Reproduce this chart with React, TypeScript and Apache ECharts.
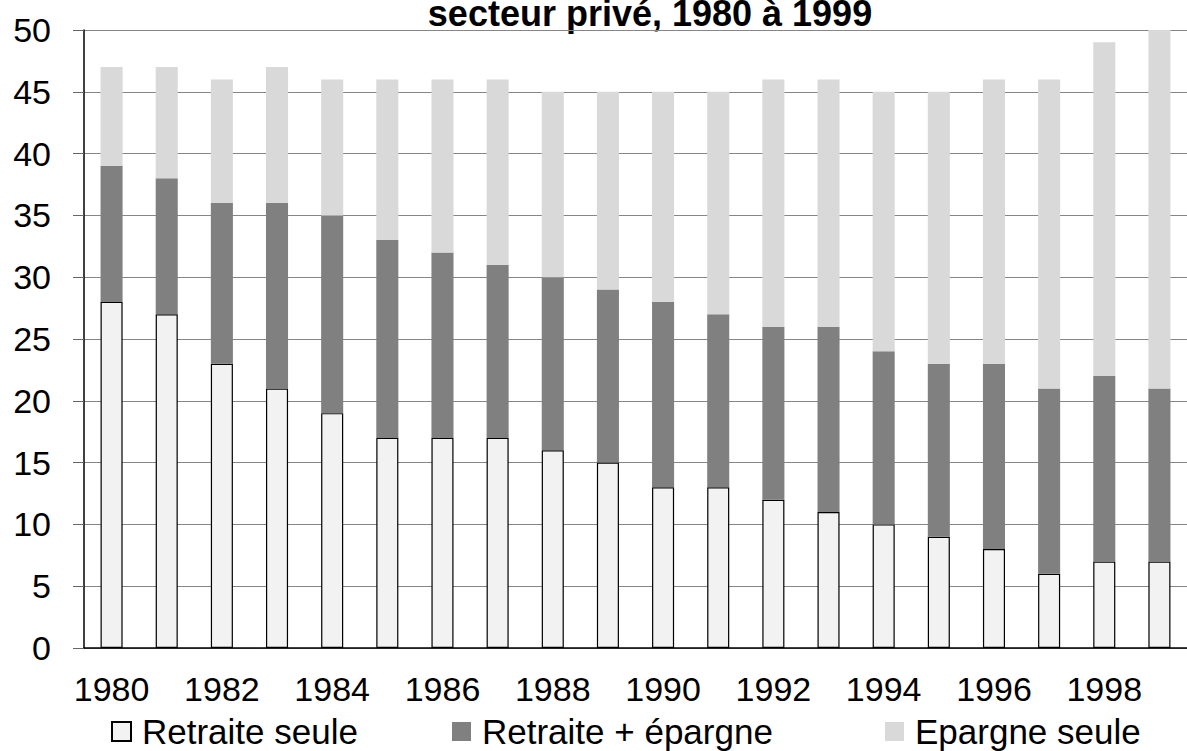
import React, { useEffect, useRef } from "react";
import * as echarts from "echarts";

const years = ["1980","1981","1982","1983","1984","1985","1986","1987","1988","1989","1990","1991","1992","1993","1994","1995","1996","1997","1998","1999"];
const retraiteSeule = [28, 27, 23, 21, 19, 17, 17, 17, 16, 15, 13, 13, 12, 11, 10, 9, 8, 6, 7, 7];
const retraiteEpargne = [11, 11, 13, 15, 16, 16, 15, 14, 14, 14, 15, 14, 14, 15, 14, 14, 15, 15, 15, 14];
const epargneSeule = [8, 9, 10, 11, 11, 13, 14, 15, 15, 16, 17, 18, 20, 20, 21, 22, 23, 25, 27, 29];
const seriesNames = ["Retraite seule", "Retraite + épargne", "Epargne seule"];
const titleText = "secteur privé, 1980 à 1999";

const FONT = '"Liberation Sans", Arial, sans-serif';

export default function App() {
  const ref = useRef<HTMLDivElement>(null);
  useEffect(() => {
    if (!ref.current) return;
    const chart = echarts.init(ref.current, null, { renderer: "svg" });
    const legendBase = {
      orient: "horizontal",
      top: 709,
      itemWidth: 19,
      itemHeight: 19,
      icon: "rect",
      textStyle: { fontSize: 35, color: "#000", fontFamily: FONT, padding: [0, 0, 0, 6] },
    };
    chart.setOption({
      animation: false,
      backgroundColor: "#fff",
      textStyle: { fontFamily: FONT },
      graphic: [
        {
          type: "text",
          x: 650,
          y: 13,
          style: {
            text: titleText,
            font: `bold 36px ${FONT}`,
            fill: "#000",
            align: "center",
            verticalAlign: "middle",
          },
        },
      ],
      legend: [
        { ...legendBase, left: 106, data: [seriesNames[0]] },
        { ...legendBase, left: 447, data: [seriesNames[1]] },
        { ...legendBase, left: 880, data: [seriesNames[2]] },
      ],
      grid: { left: 84, top: 30, width: 1114, height: 618, containLabel: false },
      xAxis: {
        type: "category",
        data: years,
        axisLine: { show: true, lineStyle: { color: "#000", width: 1.5 } },
        axisTick: { show: false },
        axisLabel: { interval: 1, fontSize: 34, color: "#000", margin: 24, fontFamily: FONT },
        splitLine: { show: false },
      },
      yAxis: {
        type: "value",
        min: 0,
        max: 50,
        interval: 5,
        axisLine: { show: true, lineStyle: { color: "#000", width: 1.5 } },
        axisTick: { show: true, length: 11, lineStyle: { color: "#666" } },
        axisLabel: { fontSize: 34, color: "#000", margin: 33, fontFamily: FONT },
        splitLine: { show: true, lineStyle: { color: "#868686", width: 1.2 } },
      },
      series: [
        {
          name: seriesNames[0],
          type: "bar",
          stack: "total",
          barWidth: "40%",
          data: retraiteSeule,
          itemStyle: { color: "#f2f2f2", borderColor: "#000", borderWidth: 1.2 },
        },
        {
          name: seriesNames[1],
          type: "bar",
          stack: "total",
          barWidth: "40%",
          data: retraiteEpargne,
          itemStyle: { color: "#808080" },
        },
        {
          name: seriesNames[2],
          type: "bar",
          stack: "total",
          barWidth: "40%",
          data: epargneSeule,
          itemStyle: { color: "#d9d9d9" },
        },
      ],
    });
    return () => chart.dispose();
  }, []);
  return (
    <div
      ref={ref}
      style={{ position: "fixed", left: 0, top: 0, width: 1187, height: 751, background: "#fff" }}
    />
  );
}
